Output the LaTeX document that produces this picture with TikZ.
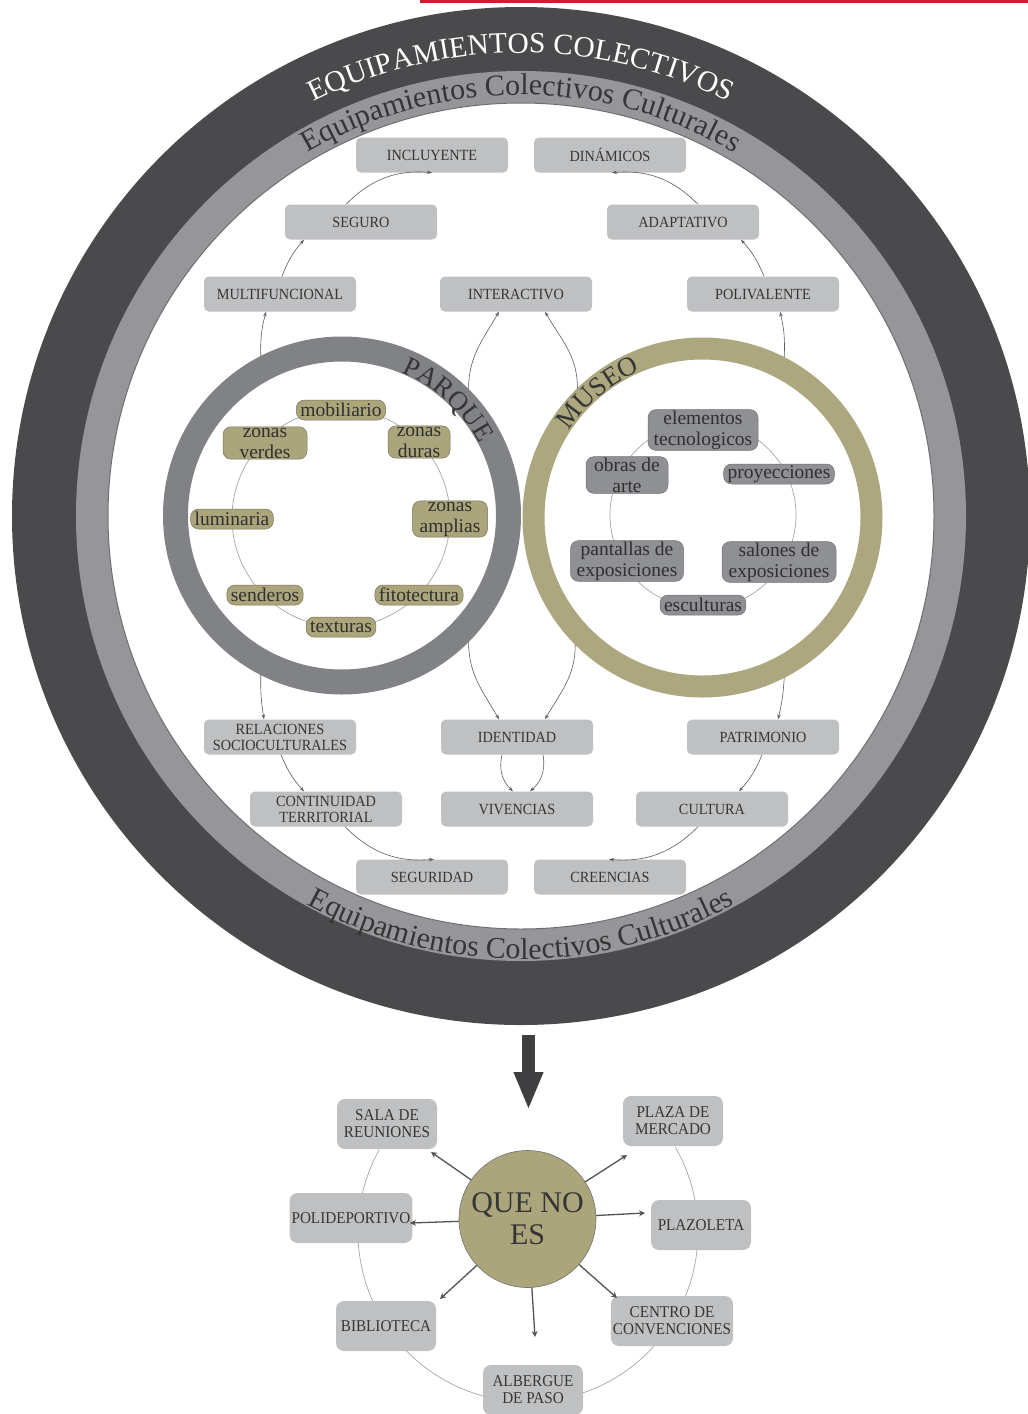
\documentclass[tikz,border=0pt]{standalone}
\usepackage{fontspec}
\setmainfont{Liberation Serif}
\newfontfamily\condfont[FakeStretch=0.92]{Liberation Serif}
\usetikzlibrary{arrows.meta,decorations.text}

\definecolor{anillo}{HTML}{4A4A4C}
\definecolor{banda}{HTML}{96969A}
\definecolor{borde}{HTML}{6E6E70}
\definecolor{caja}{HTML}{BFC0C2}
\definecolor{grisparque}{HTML}{818285}
\definecolor{olivo}{HTML}{ACA77F}
\definecolor{olivonodo}{HTML}{ABA57B}
\definecolor{grisnodo}{HTML}{8F9093}
\definecolor{flecha}{HTML}{5C5C5C}
\definecolor{tinta}{HTML}{353535}
\definecolor{rojo}{HTML}{C8202F}

\newcommand{\tituloanillo}{\fontsize{29.5}{30}\selectfont\color{white}}
\newcommand{\subanillo}{\fontsize{30}{30}\selectfont\color{tinta}}
\newcommand{\titulocirculo}{\fontsize{27}{27}\selectfont\color{tinta}}

\tikzset{
  caja/.style={fill=caja, rounded corners=5pt, minimum width=152pt, minimum height=35pt,
    font=\condfont\fontsize{15.5}{16}\selectfont, text=tinta, align=center, inner sep=2pt},
  otro/.style={caja, rounded corners=8pt, minimum width=100pt, minimum height=50pt,
    font=\condfont\fontsize{16.5}{17}\selectfont},
  pq/.style={fill=olivonodo, draw=olivonodo!70!black, line width=0.5pt, rounded corners=8pt,
    font=\fontsize{19.5}{21}\selectfont, text=tinta!90!black, align=center,
    inner xsep=4pt, inner ysep=1pt, minimum height=20pt},
  mu/.style={pq, fill=grisnodo, draw=grisnodo!80!black},
  fino/.style={draw=gray!70, line width=0.7pt},
  flujo/.style={draw=flecha, line width=0.6pt, -{Stealth[length=5pt,width=3.5pt]}},
  rayo/.style={draw=tinta!85, line width=1.3pt, -{Stealth[length=6pt,width=6pt,inset=2pt]}},
  grande/.style={draw=anillo!85!black, line width=13pt, -{Triangle[length=38pt,width=27pt]}}
}

\begin{document}
\begin{tikzpicture}[x=1pt,y=1pt]
\useasboundingbox (0,0) rectangle (1028,-1414);
\fill[rojo] (420,0) rectangle (1028,-2.5);

% anillos exteriores
\fill[anillo] (521,-516) circle[radius=509];
\fill[banda] (521,-516) circle[radius=445];
\filldraw[fill=white, draw=borde, line width=1pt] (521,-516) circle[radius=413];

\path[decorate, decoration={text along path, text align=center,
  text={|\tituloanillo|EQUIPAMIENTOS COLECTIVOS}}]
  (521,-516) ++(150:463) arc[start angle=150, end angle=30, radius=463];
\path[decorate, decoration={text along path, text align=center,
  text={|\subanillo|Equipamientos Colectivos Culturales}}]
  (521,-516) ++(150:421) arc[start angle=150, end angle=30, radius=421];
\path[decorate, decoration={text along path, text align=center,
  text={|\subanillo|Equipamientos Colectivos Culturales}}]
  (521,-516) ++(210:443) arc[start angle=210, end angle=330, radius=443];

% parque y museo
\node[circle, draw=grisparque, line width=25pt, minimum size=333pt, fill=white] (parque) at (342,-515.5) {};
\node[circle, draw=olivo, line width=22pt, minimum size=338pt, fill=white] (museo) at (702.5,-517.5) {};
\draw[fino] (341,-518) circle[radius=109];
\draw[fino] (703,-515) circle[radius=93];

\path[decorate, decoration={text along path, text align=center,
  text={|\titulocirculo|PARQUE}}]
  (parque.center) ++(100:155) arc[start angle=100, end angle=-5, radius=155];
\path[decorate, decoration={text along path, text align=center,
  text={|\titulocirculo|MUSEO}}]
  (museo.center) ++(175:159) arc[start angle=175, end angle=85, radius=159];

\node[pq] (mob) at (341,-410) {mobiliario};
\node[pq, minimum width=84pt] (zv) at (265,-443) {zonas\\verdes};
\node[pq, minimum width=62pt] (zd) at (419,-442) {zonas\\duras};
\node[pq] (lum) at (232,-519) {luminaria};
\node[pq, minimum width=75pt] (za) at (450,-519) {zonas\\amplias};
\node[pq] (sen) at (265,-595) {senderos};
\node[pq] (fit) at (419,-595) {fitotectura};
\node[pq] (tex) at (341,-627) {texturas};

\node[mu, minimum width=110pt] (ele) at (703,-430) {elementos\\tecnologicos};
\node[mu, minimum width=82pt] (obr) at (627,-475) {obras de\\arte};
\node[mu] (pro) at (779,-474) {proyecciones};
\node[mu, minimum width=113pt] (pan) at (627,-561) {pantallas de\\exposiciones};
\node[mu, minimum width=114pt] (sal) at (779,-562) {salones de\\exposiciones};
\node[mu] (esc) at (703,-605) {esculturas};

% cajas
\node[caja] (incl) at (432,-155) {INCLUYENTE};
\node[caja] (din) at (610,-155) {DINÁMICOS};
\node[caja] (seg) at (361,-222) {SEGURO};
\node[caja] (ada) at (683,-222) {ADAPTATIVO};
\node[caja] (mul) at (280,-294) {MULTIFUNCIONAL};
\node[caja] (int) at (516,-294) {INTERACTIVO};
\node[caja] (pol) at (763,-294) {POLIVALENTE};
\node[caja] (rel) at (280,-737) {RELACIONES\\SOCIOCULTURALES};
\node[caja] (ide) at (517,-737) {IDENTIDAD};
\node[caja] (pat) at (763,-737) {PATRIMONIO};
\node[caja] (con) at (326,-809) {CONTINUIDAD\\TERRITORIAL};
\node[caja] (viv) at (517,-809) {VIVENCIAS};
\node[caja] (cul) at (712,-809) {CULTURA};
\node[caja] (sgd) at (432,-877) {SEGURIDAD};
\node[caja] (cre) at (610,-877) {CREENCIAS};

\draw[flujo] (parque.117) to[bend left=8] ([xshift=-14pt]mul.south);
\draw[flujo] ([xshift=2pt]mul.north) to[bend left=10] ([xshift=-57pt]seg.south);
\draw[flujo] ([xshift=-15pt]seg.north) to[bend left=25] (incl.south);
\draw[flujo] (museo.63) to[bend right=8] ([xshift=17pt]pol.south);
\draw[flujo] ([xshift=1pt]pol.north) to[bend right=10] ([xshift=58pt]ada.south);
\draw[flujo] ([xshift=15pt]ada.north) to[bend right=25] ([xshift=2pt]din.south);
\draw[flujo] (parque.45) to[out=90,in=240] ([xshift=-17pt]int.south);
\draw[flujo] (museo.134) to[out=90,in=300] ([xshift=29pt]int.south);
\draw[flujo] (parque.315) to[out=270,in=120] ([xshift=-18pt]ide.north);
\draw[flujo] (museo.225) to[out=270,in=60] ([xshift=28pt]ide.north);
\draw[flujo] (parque.243) to[bend right=5] ([xshift=-16pt]rel.north);
\draw[flujo] ([xshift=1pt]rel.south) to[bend right=10] ([xshift=-22pt]con.north);
\draw[flujo] ([xshift=19pt]con.south) to[bend right=25] ([xshift=2pt]sgd.north);
\draw[flujo] (museo.297) to[bend left=5] ([xshift=15pt]pat.north);
\draw[flujo] ([xshift=-1pt]pat.south) to[bend left=10] ([xshift=27pt]cul.north);
\draw[flujo] ([xshift=-14pt]cul.south) to[bend left=25] ([xshift=-1pt]cre.north);
\draw[flujo] ([xshift=-15pt]ide.south) to[bend right=30] ([xshift=-4pt]viv.north);
\draw[flujo] ([xshift=26pt]ide.south) to[bend left=30] ([xshift=13pt]viv.north);

% que no es
\coordinate (flechaini) at (528.5,-1035);
\coordinate (flechafin) at (528.5,-1110);
\draw[grande] (flechaini) -- (flechafin);

\draw[fino] (528,-1232) ++(151:170) arc[start angle=151, end angle=390, radius=170];
\node[circle, fill=olivonodo, draw=tinta!70, line width=0.6pt, minimum size=137pt, inner sep=0pt,
  font=\fontsize{30}{32}\selectfont, text=tinta, align=center] (que) at (527.5,-1219) {QUE NO\\ES};

\node[otro] (sala) at (387,-1124) {SALA DE\\REUNIONES};
\node[otro] (plaza) at (673,-1121) {PLAZA DE\\MERCADO};
\node[otro, minimum width=119pt] (poli) at (351,-1218) {POLIDEPORTIVO};
\node[otro] (plzt) at (701,-1225) {PLAZOLETA};
\node[otro] (bib) at (386,-1326) {BIBLIOTECA};
\node[otro, minimum width=118pt] (cen) at (672,-1321) {CENTRO DE\\CONVENCIONES};
\node[otro] (alb) at (533,-1390) {ALBERGUE\\DE PASO};

\coordinate (pSala) at (431,-1152);
\coordinate (pPlaza) at (627,-1155);
\coordinate (pPoli) at (410,-1223);
\coordinate (pPlzt) at (645,-1213);
\coordinate (pBib) at (440,-1299);
\coordinate (pCen) at (617,-1298);
\coordinate (pAlb) at (535,-1337);
\foreach \p in {pSala,pPlaza,pPoli,pPlzt,pBib,pCen,pAlb} \draw[rayo] (que) -- (\p);
\end{tikzpicture}
\end{document}
